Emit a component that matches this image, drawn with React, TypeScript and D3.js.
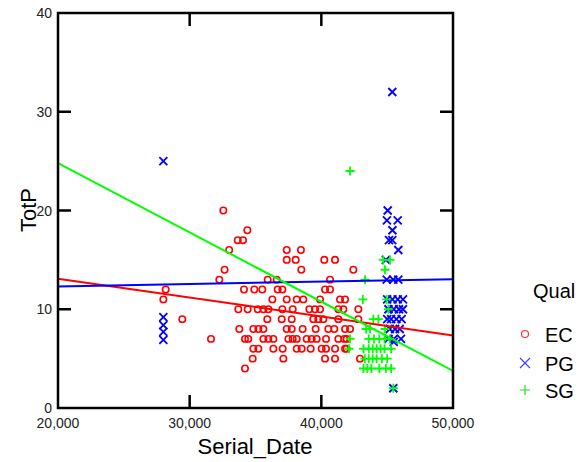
import React from "react";
import * as d3 from "d3";

const xTicks = [20000, 30000, 40000, 50000];
const yTicks = [0, 10, 20, 30, 40];
const qualLevels = ["EC", "PG", "SG"];

const ecPoints: [number, number][] = [
  [32555, 20], [34380, 18], [33650, 17], [34050, 17],
  [33000, 16], [37370, 16], [38450, 16],
  [37370, 15], [38050, 15], [40225, 15], [41040, 15],
  [32650, 14], [38480, 14], [42430, 14],
  [32250, 13], [35925, 13], [36610, 13], [40660, 13],
  [28180, 12], [34125, 12], [34910, 12], [35515, 12], [36685, 12], [37040, 12], [40280, 12], [40660, 12],
  [28000, 11], [36280, 11], [37370, 11], [38130, 11], [38630, 11], [39900, 11], [41420, 11], [41800, 11],
  [33695, 10], [34405, 10], [35165, 10], [35595, 10], [35975, 10], [37040, 10], [37825, 10], [39090, 10],
  [39520, 10], [39900, 10], [41290, 10], [41670, 10], [42810, 10],
  [29440, 9], [35895, 9], [36990, 9], [37750, 9], [39390, 9], [39770, 9], [40150, 9], [41290, 9], [42810, 9],
  [33770, 8], [34835, 8], [35215, 8], [35595, 8], [37370, 8], [37750, 8], [38580, 8], [39570, 8],
  [40530, 8], [40985, 8], [41800, 8], [42180, 8],
  [31620, 7], [34200, 7], [34450, 7], [35595, 7], [35975, 7], [36355, 7], [37495, 7], [37825, 7],
  [38130, 7], [38885, 7], [39265, 7], [39645, 7], [40355, 7], [41290, 7], [41745, 7], [41925, 7],
  [34835, 6], [35215, 6], [36355, 6], [37065, 6], [38130, 6], [38505, 6], [39190, 6], [40025, 6],
  [40355, 6], [41040, 6], [41800, 6], [41925, 6],
  [34785, 5], [37115, 5], [40280, 5], [41040, 5], [42935, 5],
  [34200, 4],
];

const pgPoints: [number, number][] = [
  [28000, 25], [28000, 9.2], [28000, 8.4], [28000, 7.7], [28000, 6.9],
  [45390, 32], [45040, 20], [44980, 19], [45800, 19], [45400, 18], [45140, 17], [45390, 17],
  [45845, 16], [44900, 15], [44965, 13], [45465, 13], [45845, 13],
  [45000, 11], [45400, 11], [45800, 11], [46200, 11],
  [45100, 10], [45500, 10], [45900, 10], [46200, 10],
  [45000, 9], [45300, 9], [45700, 9], [46100, 9],
  [45200, 8], [45600, 8], [45950, 8],
  [45100, 7], [45500, 7], [46050, 7], [45500, 6.7],
  [45465, 2],
];

const sgPoints: [number, number][] = [
  [42180, 24], [44700, 15], [45215, 15], [44835, 14], [43320, 13],
  [43150, 11], [44965, 11], [45090, 10], [44330, 9], [43950, 9],
  [43400, 8], [43700, 8], [44835, 8], [42180, 7], [42100, 6],
  [43600, 7], [44000, 7], [44400, 7], [44800, 7], [45200, 7],
  [43200, 6], [43600, 6], [43900, 6], [44200, 6], [44500, 6], [44800, 6], [45300, 6],
  [43300, 5], [43600, 5], [43900, 5], [44200, 5], [44600, 5], [45000, 5],
  [43200, 4], [43500, 4], [43800, 4], [44400, 4], [44900, 4], [45300, 4],
  [45465, 2],
];

const fitEC: [number, number][] = [[20000, 13.1], [50000, 7.35]];
const fitPG: [number, number][] = [[20000, 12.3], [50000, 13.05]];
const fitSG: [number, number][] = [[20000, 24.8], [50000, 3.75]];

const RED = "#ff0000";
const BLUE = "#0000ff";
const GREEN = "#00ff00";
const FONT = "'Liberation Sans', Arial, sans-serif";

export default function App() {
  const x = d3.scaleLinear().domain([20000, 50000]).range([58, 453]);
  const y = d3.scaleLinear().domain([0, 40]).range([408, 13]);
  const line = d3
    .line<[number, number]>()
    .x((d) => x(d[0]))
    .y((d) => y(d[1]));
  const fmt = d3.format(",");
  const tickLen = 13;

  const cross = (cx: number, cy: number, s: number) =>
    `M${cx - s},${cy - s}L${cx + s},${cy + s}M${cx - s},${cy + s}L${cx + s},${cy - s}`;
  const plus = (cx: number, cy: number, s: number) =>
    `M${cx - s},${cy}L${cx + s},${cy}M${cx},${cy - s}L${cx},${cy + s}`;

  const [x0, x1] = x.range();
  const [y0, y1] = y.range();

  return (
    <svg
      width={581}
      height={462}
      style={{ position: "absolute", left: 0, top: 0, background: "#fff" }}
      fontFamily={FONT}
    >
      <rect width={581} height={462} fill="#fff" />
      {/* points */}
      <g>
        {ecPoints.map((d, i) => (
          <circle key={"ec" + i} cx={x(d[0])} cy={y(d[1])} r={3.2} fill="none" stroke={RED} strokeWidth={1.6} />
        ))}
        {pgPoints.map((d, i) => (
          <path key={"pg" + i} d={cross(x(d[0]), y(d[1]), 4)} stroke={BLUE} strokeWidth={1.8} fill="none" />
        ))}
        {sgPoints.map((d, i) => (
          <path key={"sg" + i} d={plus(x(d[0]), y(d[1]), 4.5)} stroke={GREEN} strokeWidth={1.8} fill="none" />
        ))}
      </g>
      {/* fit lines */}
      <path d={line(fitEC) || ""} stroke={RED} strokeWidth={2} fill="none" />
      <path d={line(fitPG) || ""} stroke={BLUE} strokeWidth={2} fill="none" />
      <path d={line(fitSG) || ""} stroke={GREEN} strokeWidth={2} fill="none" />
      {/* frame */}
      <rect x={x0} y={y1} width={x1 - x0} height={y0 - y1} fill="none" stroke="#000" strokeWidth={2.5} />
      {/* ticks */}
      {xTicks.slice(1, -1).map((t) => (
        <g key={"xt" + t}>
          <line x1={x(t)} x2={x(t)} y1={y0} y2={y0 - tickLen} stroke="#000" strokeWidth={2.5} />
          <line x1={x(t)} x2={x(t)} y1={y1} y2={y1 + tickLen} stroke="#000" strokeWidth={2.5} />
        </g>
      ))}
      {yTicks.slice(1, -1).map((t) => (
        <g key={"yt" + t}>
          <line x1={x0} x2={x0 + tickLen} y1={y(t)} y2={y(t)} stroke="#000" strokeWidth={2.5} />
          <line x1={x1} x2={x1 - tickLen} y1={y(t)} y2={y(t)} stroke="#000" strokeWidth={2.5} />
        </g>
      ))}
      {/* tick labels */}
      {xTicks.map((t) => (
        <text key={"xl" + t} x={x(t)} y={428} textAnchor="middle" fontSize={14} fill="#222">
          {fmt(t)}
        </text>
      ))}
      {yTicks.map((t) => (
        <text key={"yl" + t} x={52} y={y(t) + 5} textAnchor="end" fontSize={14} fill="#222">
          {t}
        </text>
      ))}
      {/* axis titles */}
      <text x={255} y={454} textAnchor="middle" fontSize={22} fill="#000">
        Serial_Date
      </text>
      <text transform={`translate(36,210) rotate(-90)`} textAnchor="middle" fontSize={22} fill="#000">
        TotP
      </text>
      {/* legend */}
      <text x={533} y={298} fontSize={20} fill="#000">
        Qual
      </text>
      {qualLevels.map((q, i) => {
        const cy = [334, 363, 390][i];
        return (
          <g key={q}>
            {i === 0 && <circle cx={525} cy={cy} r={3.5} fill="none" stroke="#ff3030" strokeWidth={1.2} />}
            {i === 1 && <path d={cross(525, cy, 5)} stroke="#4040ff" strokeWidth={1.2} fill="none" />}
            {i === 2 && <path d={plus(525, cy, 5)} stroke="#20e020" strokeWidth={1.2} fill="none" />}
            <text x={545} y={cy + 8} fontSize={20} fill="#000">
              {q}
            </text>
          </g>
        );
      })}
    </svg>
  );
}
